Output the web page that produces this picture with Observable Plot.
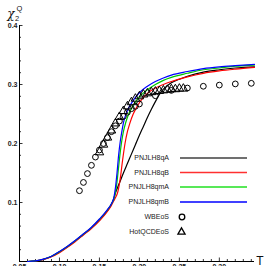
<!DOCTYPE html>
<html><head><meta charset="utf-8">
<script src="https://cdn.jsdelivr.net/npm/d3@7"></script>
<script src="https://cdn.jsdelivr.net/npm/@observablehq/plot@0.6"></script>
<style>
body{margin:0;background:#fff;}
#chart{position:relative;width:269px;height:266px;overflow:hidden;background:#fff}
</style>
</head><body><div id="chart"></div>
<script>
// ---- data (T in GeV, chi2Q) ----
const pnjlA = [[0.06,0],[0.07,0.0009],[0.08,0.0037],[0.09,0.0085],[0.10,0.016],[0.11,0.025],[0.12,0.035],[0.13,0.046],[0.14,0.057],[0.15,0.070],[0.16,0.086],[0.165,0.097],
  [0.168,0.107],[0.170,0.116],[0.175,0.133],[0.180,0.150],[0.185,0.166],[0.190,0.182],[0.195,0.198],[0.200,0.214],[0.205,0.229],[0.210,0.244],[0.215,0.258],[0.220,0.271],[0.225,0.283],[0.230,0.292],[0.235,0.298],[0.240,0.303],[0.250,0.309],[0.260,0.314],[0.280,0.321],[0.300,0.325],[0.320,0.328],[0.344,0.330]];
const pnjlB = [[0.06,0],[0.07,0.0008],[0.08,0.0035],[0.09,0.008],[0.10,0.015],[0.11,0.024],[0.12,0.034],[0.13,0.045],[0.14,0.056],[0.15,0.069],[0.16,0.085],[0.165,0.095],
  [0.168,0.103],[0.170,0.108],[0.173,0.118],[0.176,0.140],[0.179,0.172],[0.182,0.200],[0.185,0.220],[0.188,0.234],[0.192,0.249],[0.196,0.260],[0.200,0.269],[0.205,0.278],[0.210,0.285],[0.220,0.294],[0.230,0.300],[0.240,0.305],[0.260,0.313],[0.280,0.319],[0.300,0.323],[0.320,0.326],[0.344,0.329]];
const pnjlmA = [[0.06,0],[0.07,0.0009],[0.08,0.0038],[0.09,0.0088],[0.10,0.0165],[0.11,0.0255],[0.12,0.0355],[0.13,0.0465],[0.14,0.0575],[0.15,0.0713],[0.16,0.0873],[0.165,0.0973],
  [0.168,0.106],[0.170,0.117],[0.172,0.135],[0.174,0.160],[0.176,0.185],[0.178,0.205],[0.180,0.220],[0.183,0.236],[0.186,0.248],[0.190,0.259],[0.195,0.270],[0.200,0.279],[0.210,0.291],[0.220,0.300],[0.230,0.307],[0.240,0.312],[0.260,0.319],[0.280,0.325],[0.300,0.328],[0.320,0.331],[0.344,0.333]];
const pnjlmB = [[0.06,0],[0.07,0.001],[0.08,0.004],[0.09,0.009],[0.10,0.017],[0.11,0.026],[0.12,0.036],[0.13,0.047],[0.14,0.058],[0.15,0.072],[0.16,0.088],[0.165,0.098],
  [0.168,0.108],[0.170,0.125],[0.172,0.150],[0.174,0.180],[0.176,0.203],[0.178,0.220],[0.180,0.235],[0.183,0.249],[0.186,0.259],[0.190,0.268],[0.195,0.278],[0.200,0.286],[0.210,0.297],[0.220,0.305],[0.230,0.311],[0.240,0.316],[0.260,0.322],[0.280,0.327],[0.300,0.330],[0.320,0.332],[0.344,0.334]];

const wbT = [0.125,0.13,0.135,0.14,0.145,0.15,0.155,0.16,0.165,0.17,0.175,0.18,0.185,0.19,0.195,0.20,0.22,0.24,0.26,0.28,0.30,0.32,0.34];
const wbV = [0.120,0.134,0.149,0.163,0.177,0.189,0.200,0.210,0.220,0.230,0.238,0.246,0.253,0.259,0.263,0.267,0.281,0.290,0.294,0.297,0.299,0.301,0.302];
const hqT = [0.15,0.155,0.16,0.165,0.17,0.175,0.18,0.185,0.19,0.195,0.20,0.205,0.21,0.215,0.22,0.225,0.23,0.235,0.24,0.245,0.25,0.255];
const hqV = [0.185,0.198,0.210,0.222,0.234,0.245,0.255,0.263,0.270,0.276,0.280,0.283,0.285,0.287,0.288,0.289,0.290,0.291,0.292,0.292,0.293,0.293];

const xMajor = [0.05,0.10,0.15,0.20,0.25,0.30];
const xMinor = [0.06,0.07,0.08,0.09,0.11,0.12,0.13,0.14,0.16,0.17,0.18,0.19,0.21,0.22,0.23,0.24,0.26,0.27,0.28,0.29,0.31,0.32,0.33,0.34];
const yMajor = [0.1,0.2,0.3,0.4];
const yMinor = [0.02,0.04,0.06,0.08,0.12,0.14,0.16,0.18,0.22,0.24,0.26,0.28,0.32,0.34,0.36,0.38];

const seriesNames = ["PNJLH8qA","PNJLH8qB","PNJLH8qmA","PNJLH8qmB"];
const seriesColors = ["#000000","#ff0000","#00c800","#0000ff"];
const legendLineColors = ["#707070","#ff3030","#20e020","#0000ff"];
const seriesData = [pnjlA, pnjlB, pnjlmA, pnjlmB];

const curves = seriesData.flatMap((arr, i) => arr.map(([T, v]) => ({T, v, s: seriesNames[i]})));
const wb = wbT.map((T, i) => ({T, v: wbV[i]}));
const hq = hqT.map((T, i) => ({T, v: hqV[i]}));

const fmt = d => d.toFixed(2);
const font = "'Liberation Sans', Arial, sans-serif";

const plot = Plot.plot({
  width: 269, height: 266,
  marginLeft: 19, marginRight: 15, marginTop: 25, marginBottom: 5,
  style: {fontFamily: font, background: "white", overflow: "visible"},
  x: {domain: [0.05, 0.344], label: null},
  y: {domain: [0, 0.4], label: null},
  color: {domain: seriesNames, range: seriesColors},
  marks: [
    Plot.axisX({ticks: xMinor, tickSize: -2, text: null, strokeWidth: 0.8, label: null}),
    Plot.axisX({ticks: xMajor, tickSize: -3.5, text: null, strokeWidth: 0.8, label: null}),
    Plot.axisX({ticks: xMajor, tickSize: 0, tickPadding: 2.5, tickFormat: fmt, fontSize: 7, fontWeight: "bold", fill: "#222", label: null}),
    Plot.axisY({ticks: yMinor, tickSize: -2, text: null, strokeWidth: 0.8, label: null}),
    Plot.axisY({ticks: yMajor, tickSize: -3.5, text: null, strokeWidth: 0.8, label: null}),
    Plot.axisY({ticks: yMajor, tickSize: 0, tickPadding: 2, tickFormat: d => d.toFixed(1), fontSize: 7, fontWeight: "bold", fill: "#222", label: null}),
    Plot.ruleX([0.05], {stroke: "#000", strokeWidth: 1}),
    Plot.ruleY([0], {stroke: "#000", strokeWidth: 1}),
    Plot.line(curves, {x: "T", y: "v", z: "s", stroke: "s", strokeWidth: 1.2, curve: "monotone-x"}),
    Plot.dot(wb, {x: "T", y: "v", r: 2.9, stroke: "#000", strokeWidth: 1, fill: "none"}),
    Plot.dot(hq, {x: "T", y: "v", r: 3.2, symbol: "triangle", stroke: "#000", strokeWidth: 1, fill: "none"})
  ]
});
document.getElementById("chart").appendChild(plot);

const svg = d3.select(plot);
// y label chi_2^Q
const yl = svg.append("g").attr("font-family", "'DejaVu Serif', serif").attr("fill", "#111");
yl.append("text").attr("x", 11).attr("y", 18).attr("font-size", 12).attr("font-style", "italic").text("χ");
yl.append("text").attr("x", 17).attr("y", 21).attr("font-size", 7.5).attr("font-family", font).text("2");
yl.append("text").attr("x", 19.5).attr("y", 10.5).attr("font-size", 7.5).attr("font-family", font).text("Q");
// x label
svg.append("text").attr("x", 260).attr("y", 265).attr("font-size", 12).attr("font-family", font).attr("fill", "#111").text("T");

// legend
const legNames = [...seriesNames, "WBEoS", "HotQCDEoS"];
const rowY = [158, 172.5, 187, 202, 217, 232];
const lg = svg.append("g").attr("font-family", font).attr("font-size", 7).attr("fill", "#222");
legNames.forEach((n, i) => {
  lg.append("text").attr("x", 169).attr("y", rowY[i]).attr("dy", "0.35em").attr("text-anchor", "end").text(n);
});
seriesNames.forEach((n, i) => {
  lg.append("line").attr("x1", 180).attr("x2", 247).attr("y1", rowY[i]).attr("y2", rowY[i])
    .attr("stroke", legendLineColors[i]).attr("stroke-width", i === 0 ? 2.2 : 1.4);
});
lg.append("circle").attr("cx", 182).attr("cy", rowY[4]).attr("r", 2.8).attr("fill", "none").attr("stroke", "#000").attr("stroke-width", 1.3);
lg.append("path").attr("transform", `translate(181.5,${rowY[5]})`).attr("d", d3.symbol(d3.symbolTriangle, 22)()).attr("fill", "none").attr("stroke", "#000").attr("stroke-width", 1.3);
</script>
</body></html>
